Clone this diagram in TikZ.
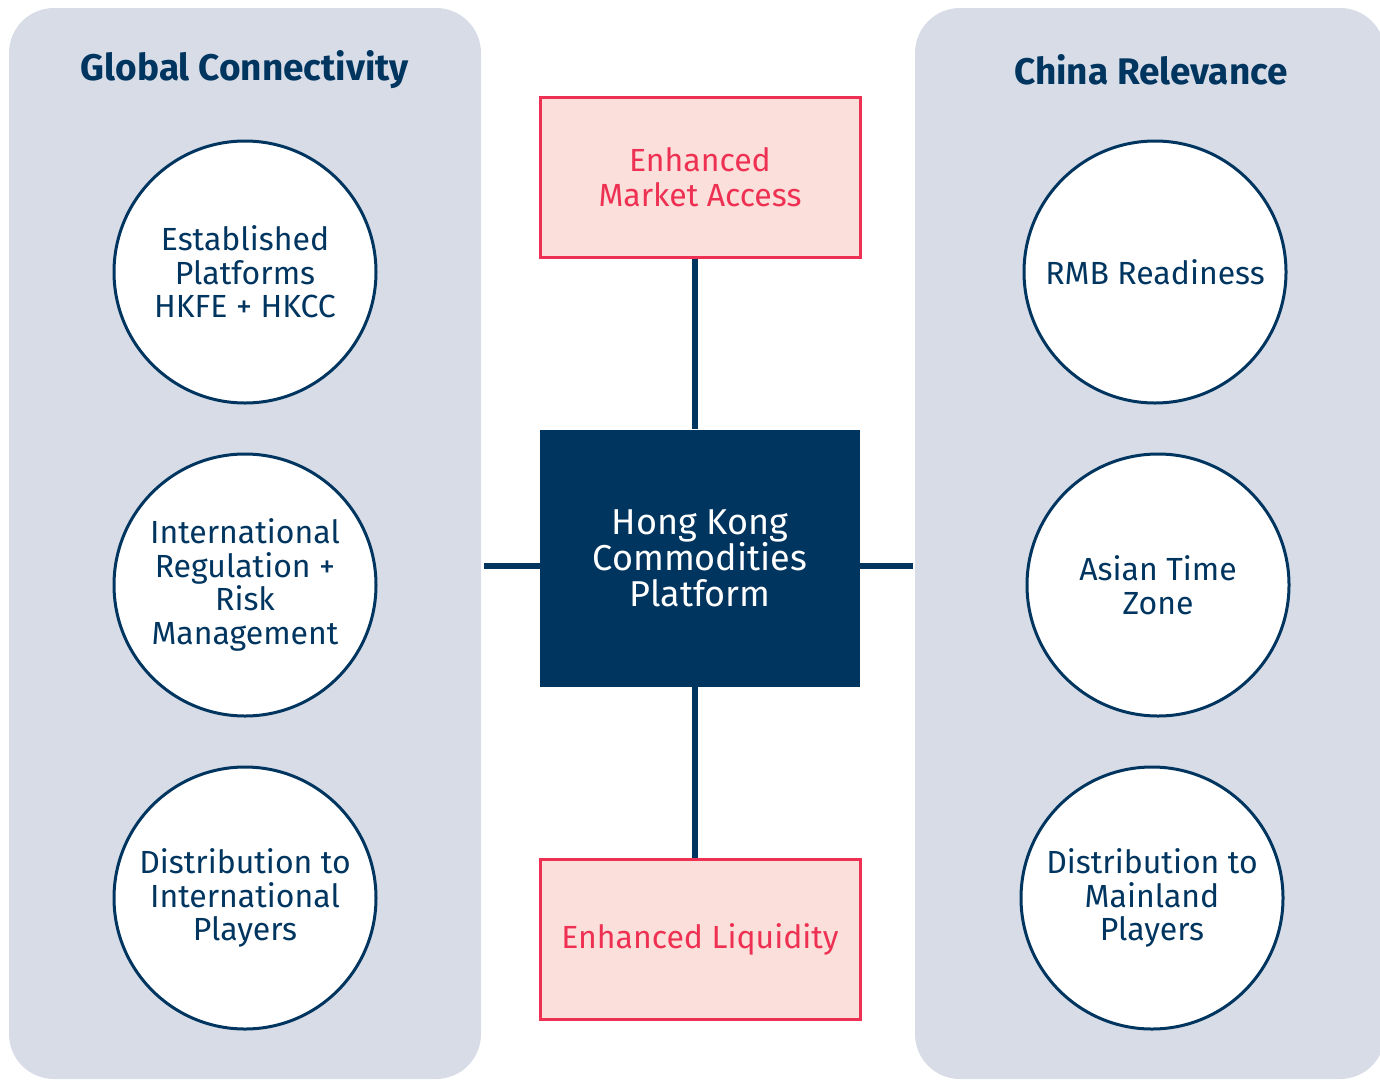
\documentclass[tikz,border=0pt]{standalone}
\usepackage{fontspec}
\setmainfont{Fira Sans}
\usetikzlibrary{positioning}

\definecolor{navy}{HTML}{003560}
\definecolor{panelgray}{HTML}{D7DCE7}
\definecolor{rosefill}{HTML}{FBDFDA}
\definecolor{rosered}{HTML}{EE3152}

\tikzset{
    panel/.style={fill=panelgray, draw=none, rounded corners=45pt},
    title/.style={text=navy, font=\fontsize{37}{40}\selectfont\bfseries},
    pillar/.style={circle, draw=navy, line width=3pt, fill=white,
        minimum size=262pt, inner sep=0pt, align=center, text=navy,
        font=\fontsize{32}{33.5}\selectfont},
    effect/.style={rectangle, draw=rosered, line width=3pt, fill=rosefill,
        minimum width=320pt, minimum height=160pt, align=center, text=rosered,
        font=\fontsize{32}{35.5}\selectfont},
    hub/.style={rectangle, fill=navy, draw=none, minimum width=320pt,
        minimum height=257pt, align=center, text=white,
        font=\fontsize{36}{35.5}\selectfont},
    link/.style={draw=navy, line width=6pt}
}

\begin{document}
\begin{tikzpicture}[x=1pt, y=-1pt]
    \useasboundingbox (0,0) rectangle (1380,1079);
    % Background panels
        \fill[panel] (9,8) rectangle (481,1079);
        \fill[panel] (915,8) rectangle (1385,1079);
        \node[title] (gtitle) at (245,70) {Global Connectivity};
        \node[title] (ctitle) at (1151,70) {China Relevance};

    % Left column
        \node[pillar] (est) at (245,272) {Established\\Platforms\\HKFE + HKCC};
        \node[pillar,
            below=48pt of est] (reg) {International\\Regulation +\\Risk\\Management};
        \node[pillar,
            below=48pt of reg] (dint) {Distribution to\\International\\Players};

    % Right column
        \node[pillar] (rmb) at (1155,272) {RMB Readiness};
        \node[pillar] (atz) at (1158,585) {Asian Time\\Zone};
        \node[pillar] (dml) at (1152,898) {Distribution to\\Mainland\\Players};

    % Centre
        \node[hub] (hk) at (700,558) {Hong Kong\\Commodities\\Platform};
        \node[effect] (access) at (700,177) {Enhanced\\Market Access};
        \node[effect] (liq) at (700,939) {Enhanced Liquidity};

        \coordinate (lend) at (484,566);
        \coordinate (rend) at (913,566);

       \draw[link]
            (access.south -| 695,0) -- (hk.north -| 695,0)
            (hk.south -| 695,0) -- (liq.north -| 695,0)
            (lend) -- (lend -| hk.west)
            (rend) -- (rend -| hk.east)
            ;
\end{tikzpicture}
\end{document}
